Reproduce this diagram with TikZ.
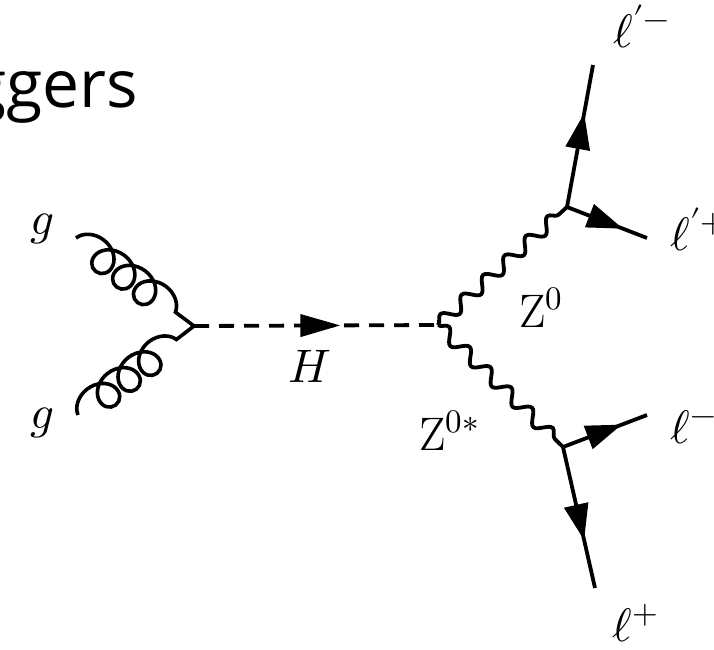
\documentclass[tikz,border=0pt]{standalone}
\usepackage{fontspec}
\usepackage{unicode-math}
\newfontfamily\titlefont{Open Sans}
\usetikzlibrary{decorations.pathmorphing,decorations.markings,arrows.meta}
\begin{document}
\begin{tikzpicture}[x=1pt,y=-1pt,
  lbl/.style={font=\fontsize{47}{50}\selectfont, inner sep=0pt},
  fermion/.style={line width=3.8pt,
    postaction={decorate},
    decoration={markings, mark=at position #1 with {\arrow{Triangle[length=36pt,width=24pt]}}}},
  fermion/.default=0.66,
  gluon/.style={line width=3.6pt, decorate,
    decoration={coil, aspect=1.1, segment length=26pt, amplitude=15pt}},
  boson/.style={line width=3.8pt, decorate,
    decoration={snake, segment length=29pt, amplitude=6.5pt}},
  higgs/.style={line width=3.8pt, dash pattern=on 15pt off 10pt,
    postaction={decorate},
    decoration={markings, mark=at position 0.6 with {\arrow{Triangle[length=40pt,width=22pt]}}}}
]
\useasboundingbox (0,0) rectangle (714,649);
\clip (0,0) rectangle (714,649);

\node[anchor=base east, font=\titlefont\fontsize{66}{70}\selectfont, inner sep=0pt] (title) at (138,107) {ggers};

\coordinate (gt) at (76,238);
\coordinate (gb) at (78,415);
\coordinate (v1) at (194,326);
\coordinate (v2) at (438,325);
\coordinate (vu) at (567,207);
\coordinate (vd) at (563,447);
\coordinate (e1) at (593,65);
\coordinate (e2) at (647,238);
\coordinate (e3) at (647,415);
\coordinate (e4) at (595,588);

\draw[gluon] (gt) -- (v1);
\draw[gluon] (gb) -- (v1);
\draw[higgs] (v1) -- (v2);
\draw[boson] (v2) -- (vu);
\draw[boson] (v2) -- (vd);
\draw[fermion] (vu) -- (e1);
\draw[fermion=0.7] (vu) -- (e2);
\draw[fermion=0.7] (vd) -- (e3);
\draw[fermion] (vd) -- (e4);

\node[lbl, anchor=base] (lg1) at (42,234) {$g$};
\node[lbl, anchor=base] (lg2) at (42,428) {$g$};
\node[lbl, anchor=base] (lH) at (310,382) {$H$};
\node[lbl, anchor=base west] (lZ) at (519,327) {$\mathrm{Z}^0$};
\node[lbl, anchor=base west] (lZs) at (419,450) {$\mathrm{Z}^{0*}$};
\node[lbl, anchor=base west] (l1) at (613,47) {$\ell'^-$};
\node[lbl, anchor=base west] (l2) at (670,250) {$\ell'^+$};
\node[lbl, anchor=base west] (l3) at (670,443) {$\ell^-$};
\node[lbl, anchor=base west] (l4) at (612,641) {$\ell^+$};
\end{tikzpicture}
\end{document}
